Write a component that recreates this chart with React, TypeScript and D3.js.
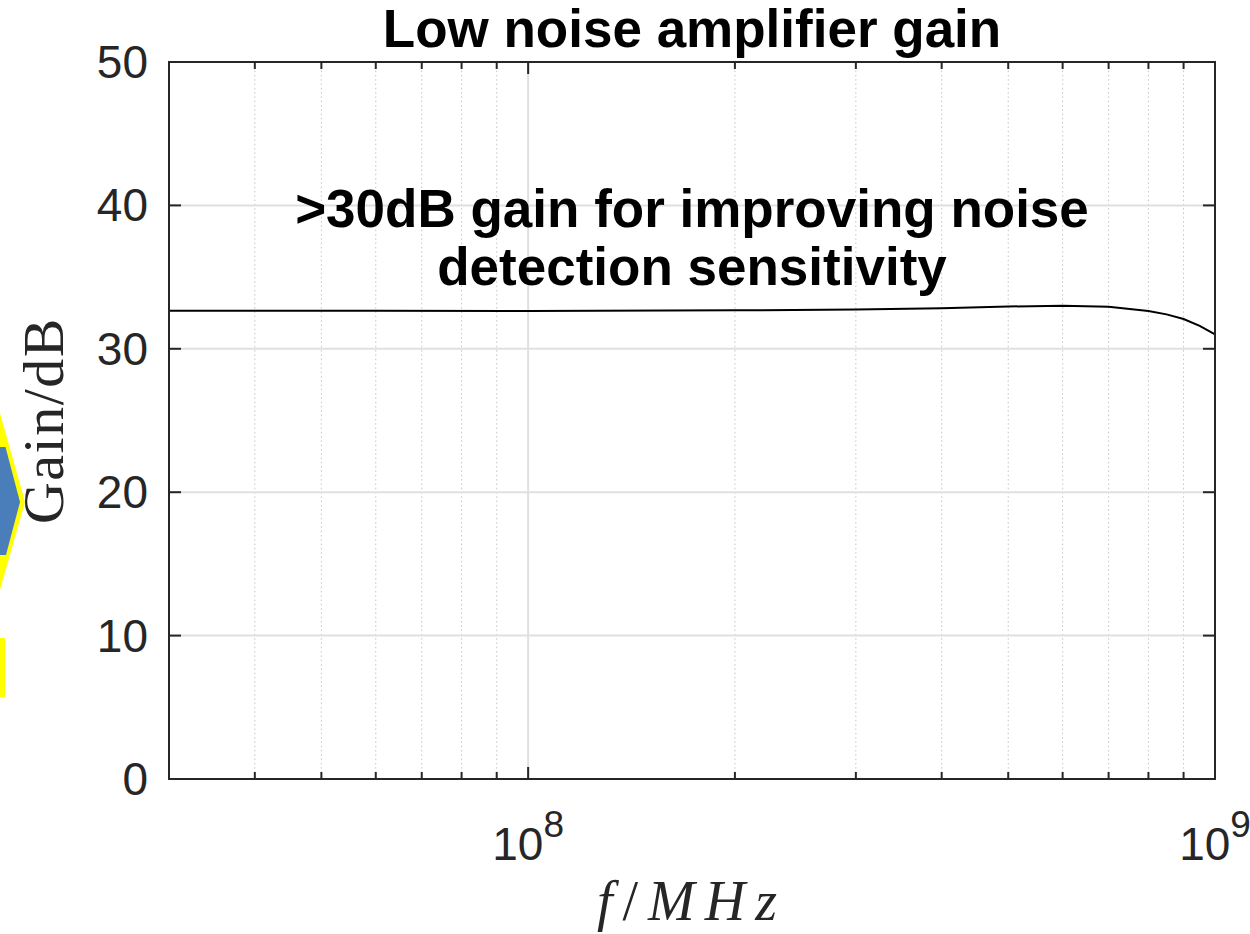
import React from "react";
import * as d3 from "d3";

// frequency (Hz) vs gain (dB)
const freqs = [3e7, 6e7, 1e8, 2e8, 3e8, 4e8, 5e8, 6e8, 7e8, 8e8, 8.5e8, 9e8, 9.5e8, 1e9];
const gains = [32.66, 32.65, 32.64, 32.68, 32.74, 32.82, 32.95, 33.0, 32.93, 32.64, 32.4, 32.08, 31.6, 31.0];

const yTickValues = [0, 10, 20, 30, 40, 50];
const xMajorTicks = [1e8, 1e9];
const xMajorExp = ["8", "9"];
const xMinorTicks = [4e7, 5e7, 6e7, 7e7, 8e7, 9e7, 2e8, 3e8, 4e8, 5e8, 6e8, 7e8, 8e8, 9e8];

const titleText = "Low noise amplifier gain";
const noteLines = [">30dB gain for improving noise", "detection sensitivity"];

export default function App() {
  const width = 1250;
  const height = 934;
  const left = 169;
  const right = 1215;
  const top = 62;
  const bottom = 779;
  const axisColor = "#262626";
  const sans = "'Liberation Sans', Arial, Helvetica, sans-serif";
  const serif = "'Liberation Serif', 'Times New Roman', serif";

  const x = d3.scaleLog().domain([3e7, 1e9]).range([left, right]);
  const y = d3.scaleLinear().domain([0, 50]).range([bottom, top]);

  const points: [number, number][] = freqs.map((f, i) => [x(f), y(gains[i])]);
  const line = d3.line();

  const cx = (left + right) / 2;
  const cy = (top + bottom) / 2;

  return (
    <svg
      width={width}
      height={height}
      style={{ position: "absolute", left: 0, top: 0, background: "#fff" }}
    >
      {/* arrow fragment on the left edge of the figure */}
      <g>
        <polygon points="0,413 25,502 0,590" fill="#ffff00" />
        <polygon points="0,447 5.5,447 20,502 6,555 0,555" fill="#4a7ebb" />
        <rect x={0} y={638} width={5} height={59} fill="#ffff00" />
      </g>

      {/* grid */}
      <g>
        {xMinorTicks.map((t) => (
          <line
            key={"mg" + t}
            x1={x(t)}
            x2={x(t)}
            y1={top}
            y2={bottom}
            stroke="#c4c4c4"
            strokeWidth={1}
            strokeDasharray="1.5 2.8"
          />
        ))}
        {yTickValues.map((t) => (
          <line
            key={"hg" + t}
            x1={left}
            x2={right}
            y1={y(t)}
            y2={y(t)}
            stroke="#e0e0e0"
            strokeWidth={2}
          />
        ))}
        {xMajorTicks.map((t) => (
          <line
            key={"vg" + t}
            x1={x(t)}
            x2={x(t)}
            y1={top}
            y2={bottom}
            stroke="#e0e0e0"
            strokeWidth={2}
          />
        ))}
      </g>

      {/* gain curve */}
      <path d={line(points) || ""} fill="none" stroke="#000" strokeWidth={2} />

      {/* annotation */}
      {noteLines.map((s, i) => (
        <text
          key={"note" + i}
          x={cx}
          y={227 + i * 58}
          textAnchor="middle"
          fontFamily={sans}
          fontWeight="bold"
          fontSize={53}
          fill="#000"
        >
          {s}
        </text>
      ))}

      {/* axes box and ticks */}
      <g stroke={axisColor} strokeWidth={2}>
        <rect x={left} y={top} width={right - left} height={bottom - top} fill="none" />
        {yTickValues.map((t) => (
          <g key={"yt" + t}>
            <line x1={left} x2={left + 12} y1={y(t)} y2={y(t)} />
            <line x1={right} x2={right - 12} y1={y(t)} y2={y(t)} />
          </g>
        ))}
        {xMajorTicks.map((t) => (
          <g key={"xt" + t}>
            <line x1={x(t)} x2={x(t)} y1={bottom} y2={bottom - 12} />
            <line x1={x(t)} x2={x(t)} y1={top} y2={top + 12} />
          </g>
        ))}
        {xMinorTicks.map((t) => (
          <g key={"xm" + t}>
            <line x1={x(t)} x2={x(t)} y1={bottom} y2={bottom - 7} />
            <line x1={x(t)} x2={x(t)} y1={top} y2={top + 7} />
          </g>
        ))}
      </g>

      {/* tick labels */}
      <g fontFamily={sans} fontSize={46} fill={axisColor}>
        {yTickValues.map((t) => (
          <text
            key={"yl" + t}
            x={left - 21}
            y={y(t)}
            textAnchor="end"
            dominantBaseline="central"
          >
            {t}
          </text>
        ))}
        {xMajorTicks.map((t, i) => (
          <text key={"xl" + t} x={x(t)} y={860} textAnchor="middle">
            10
            <tspan dy={-23} fontSize={37}>
              {xMajorExp[i]}
            </tspan>
          </text>
        ))}
      </g>

      {/* title */}
      <text
        x={cx}
        y={47}
        textAnchor="middle"
        fontFamily={sans}
        fontWeight="bold"
        fontSize={53}
        fill="#000"
      >
        {titleText}
      </text>

      {/* axis labels */}
      <text
        x={cx}
        y={920}
        textAnchor="middle"
        fontFamily={serif}
        fontSize={56}
        letterSpacing={10}
        fill={axisColor}
      >
        <tspan fontStyle="italic">f</tspan>
        <tspan>/</tspan>
        <tspan fontStyle="italic">MHz</tspan>
      </text>
      <text
        transform={`translate(63,${cy}) rotate(-90)`}
        textAnchor="middle"
        fontFamily={serif}
        fontSize={58}
        letterSpacing={1.5}
        fill={axisColor}
      >
        Gain/dB
      </text>
    </svg>
  );
}
